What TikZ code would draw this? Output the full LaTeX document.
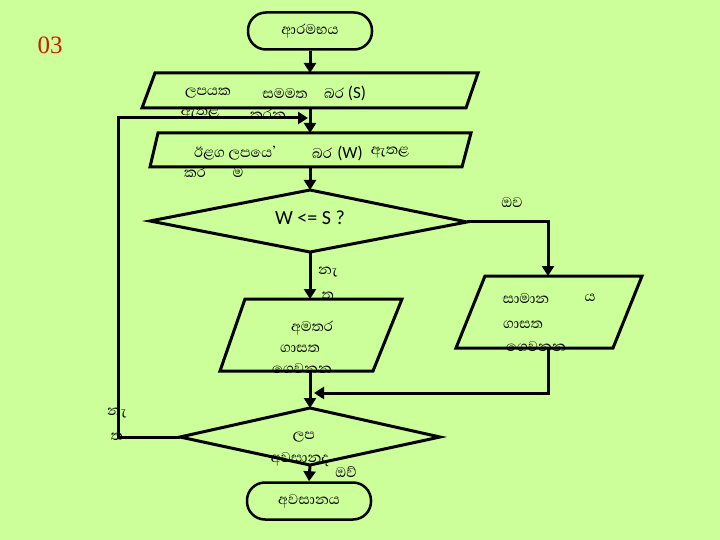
\documentclass[tikz,border=0pt]{standalone}
\usepackage{fontspec}
\setmainfont{Liberation Serif}
\newfontfamily\sinhfont[Script=Sinhala]{Abhaya Libre}
\newfontfamily\calfont{Carlito}
\usetikzlibrary{arrows.meta}
\definecolor{bg}{RGB}{204,255,153}
\definecolor{numred}{RGB}{200,30,0}
\begin{document}
\begin{tikzpicture}[x=1pt,y=-1pt,
  line width=2.5pt,
  si/.style={font=\sinhfont\fontsize{18}{20}\selectfont, inner sep=0pt},
  lat/.style={font=\calfont\fontsize{17}{19}\selectfont, inner sep=0pt},
  term/.style={draw, rounded corners=18pt, minimum width=124pt, minimum height=37pt, line width=2.5pt, font=\sinhfont\fontsize{18}{20}\selectfont},
  arr/.style={-{Triangle[width=12pt,length=10pt]}, line width=3pt},
  ln/.style={line width=3pt}]
\fill[bg] (0,0) rectangle (720,540);
\useasboundingbox (0,0) rectangle (720,540);

\node[font=\fontsize{25}{27}\selectfont, text=numred] (num) at (50,45) {03};

% texts
\node[si] (t1a) at (208,93) {ලපයක};
\node[si] (t1b) at (285,93) {සමමත};
\node[si] (t1c) at (334,93) {බර};
\node[lat] (t1s) at (357,93) {(S)};
\node[si] (t1d) at (200,114) {ඇතළ};
\node[si] (t1e) at (268,114) {කරන};

\node[si] (t2a) at (235,153) {ඊළග ලපයෙ’};
\node[si] (t2b) at (322,153) {බර};
\node[lat] (t2w) at (350,153) {(W)};
\node[si] (t2e) at (390,153) {ඇතළ};
\node[si] (t2c) at (195,172) {කර};
\node[si] (t2d) at (238,172) {ම};

\node[font=\calfont\fontsize{20}{22}\selectfont] (tq) at (310,218) {W <= S ?};
\node[si] (tyes1) at (512,203) {ඔව};
\node[si] (tno1a) at (328,272) {නැ};
\node[si] (tno1b) at (328,296) {ත};

\node[si] (t3a) at (312,328) {අමතර};
\node[si] (t3b) at (300,349) {ගාසත};
\node[si] (t3c) at (302,369) {ගෙවනන};

\node[si] (t4a) at (526,298) {සාමාන};
\node[si] (t4b) at (590,298) {ය};
\node[si] (t4c) at (523,325) {ගාසත};
\node[si] (t4d) at (536,347) {ගෙවනන};

\node[si] (t5a) at (304,437) {ලප};
\node[si] (t5b) at (300,460) {අවසානද};
\node[si] (t5c) at (346,472) {ඔව්};
\node[si] (tno2a) at (117,413) {නැ};
\node[si] (tno2b) at (117,437) {ත};

% terminals
\node[term] (start) at (310,31) {ආරමභය};
\node[term] (stop) at (309,501) {අවසානය};

% shapes
\draw[ln] (155,73) -- (478,73) -- (466,108) -- (142,108) -- cycle;
\coordinate (p1top) at (310,73);
\coordinate (p1bot) at (310,108);
\draw[ln] (158,133) -- (471,133) -- (462,167) -- (150,167) -- cycle;
\coordinate (p2top) at (310,133);
\coordinate (p2bot) at (310,167);
\draw[ln] (310,190) -- (467,222) -- (310,252) -- (150,221) -- cycle;
\coordinate (d1top) at (310,190);
\coordinate (d1right) at (467,222);
\coordinate (d1bot) at (310,252);
\draw[ln] (245,299) -- (402,299) -- (373,371) -- (220,371) -- cycle;
\coordinate (p3top) at (310,299);
\coordinate (p3bot) at (310,371);
\draw[ln] (485,276) -- (642,276) -- (613,348) -- (456,348) -- cycle;
\coordinate (p4top) at (548,276);
\coordinate (p4bot) at (548,348);
\draw[ln] (310,408) -- (440,437) -- (310,465) -- (180,437) -- cycle;
\coordinate (d2top) at (310,408);
\coordinate (d2left) at (180,437);
\coordinate (d2bot) at (310,465);
\coordinate (loopend) at (308,118);
\coordinate (mergeend) at (314,393);

% connectors
\draw[arr] (start.south) -- (p1top);
\draw[arr] (d2left) -- (118,437) -- (118,118) -- (loopend);
\draw[arr] (p1bot) -- (p2top);
\draw[arr] (p2bot) -- (d1top);
\draw[arr] (d1right) -- (548,222) -- (p4top);
\draw[arr] (d1bot) -- (p3top);
\draw[arr] (p3bot) -- (d2top);
\draw[arr] (p4bot) -- (548,393) -- (mergeend);
\draw[arr] (d2bot) -- (stop.north);
\end{tikzpicture}
\end{document}
